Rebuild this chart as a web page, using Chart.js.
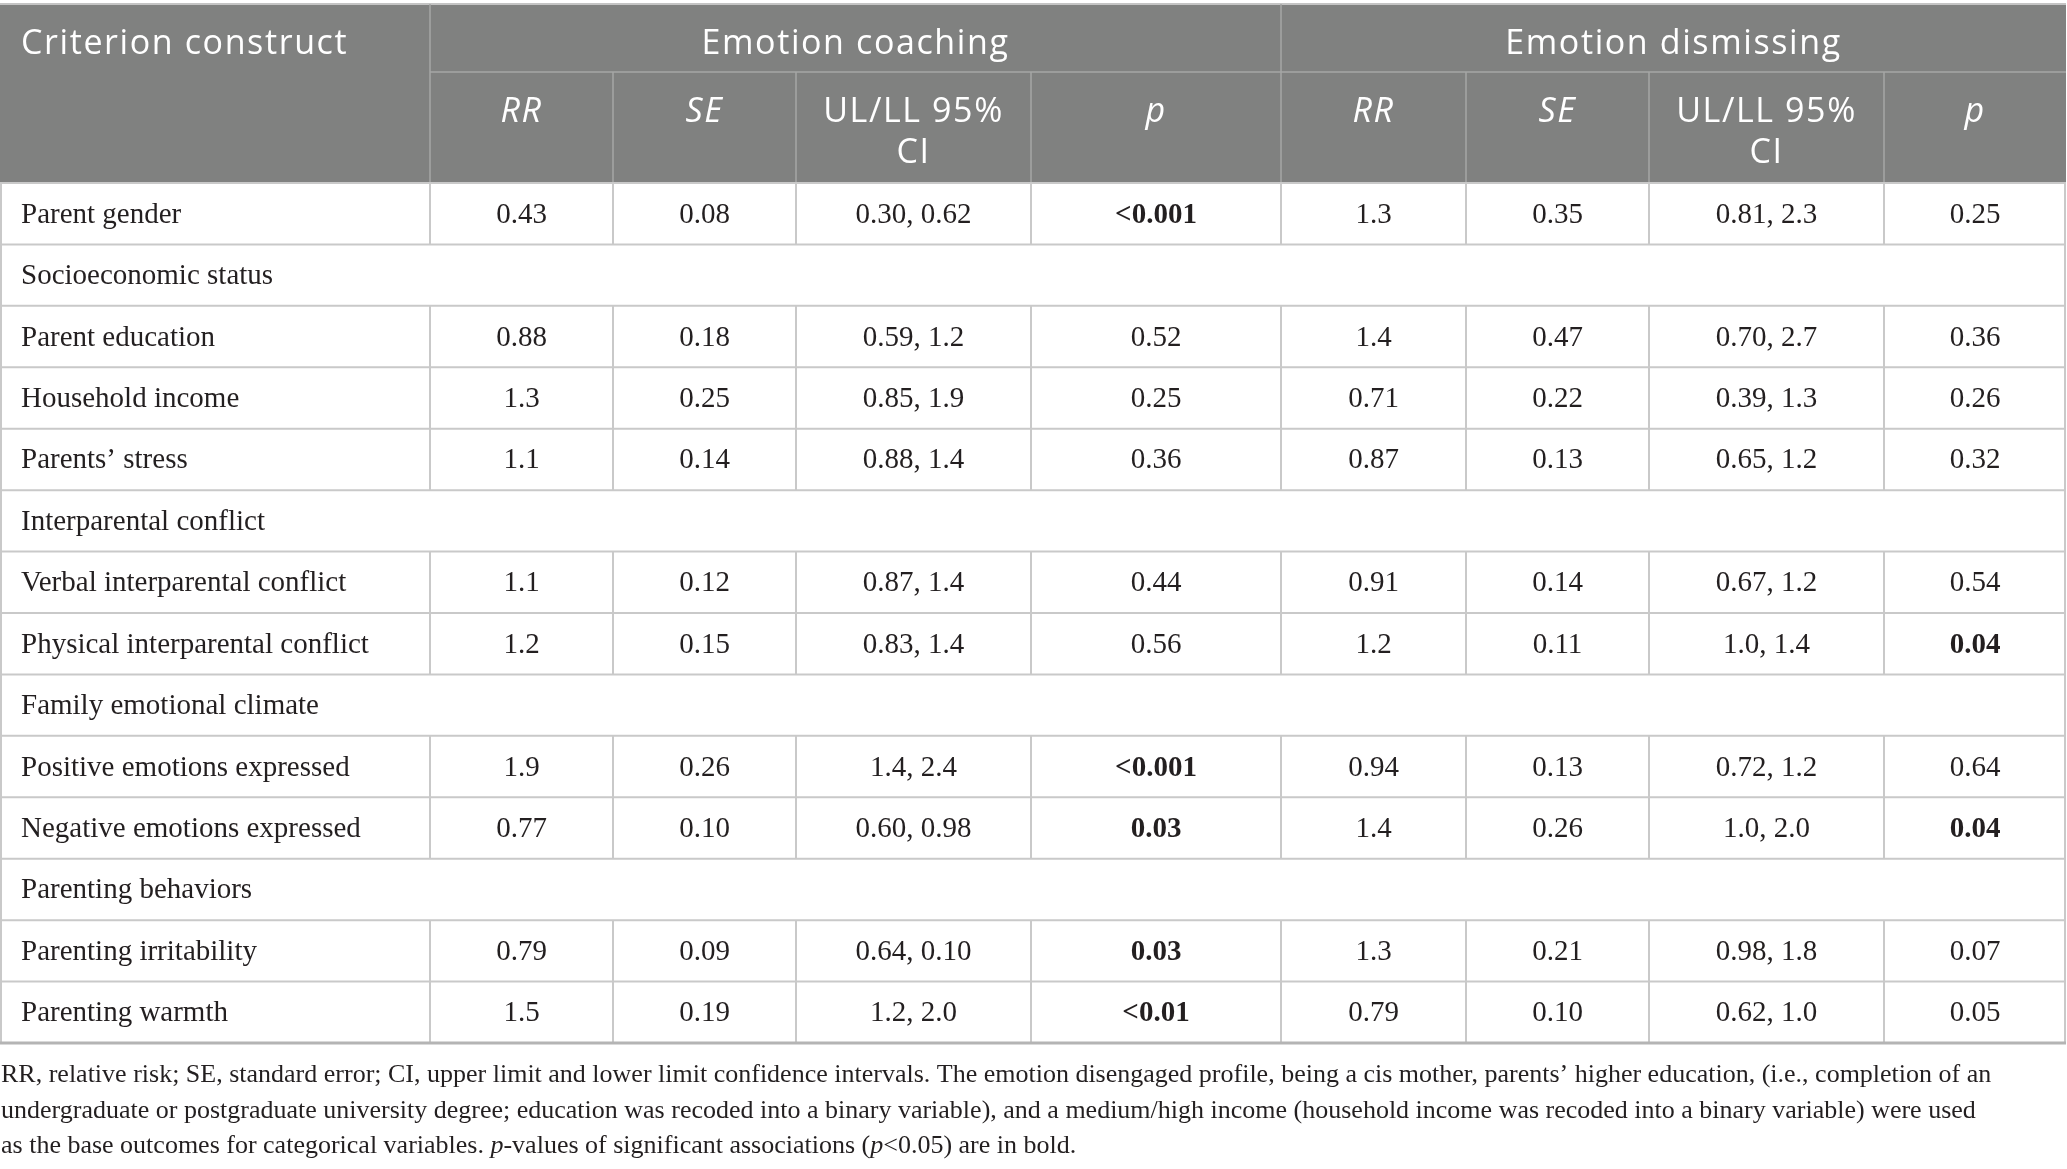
<!DOCTYPE html>
<html>
<head>
<meta charset="utf-8">
<title>Criterion constructs by emotion profile</title>
<script src="https://cdn.jsdelivr.net/npm/chart.js@4.4.1/dist/chart.umd.min.js"></script>
<style>
  html, body { margin: 0; padding: 0; background: #fff; }
  canvas { display: block; }
</style>
</head>
<body>
<canvas id="tableChart" width="2067" height="1169"></canvas>
<script>
// Table data (rows with null values are section headings)
const rowLabels = [
  'Parent gender', 'Socioeconomic status', 'Parent education', 'Household income',
  'Parents\u2019 stress', 'Interparental conflict', 'Verbal interparental conflict',
  'Physical interparental conflict', 'Family emotional climate', 'Positive emotions expressed',
  'Negative emotions expressed', 'Parenting behaviors', 'Parenting irritability', 'Parenting warmth'
];
const groupLabels = ['Emotion coaching', 'Emotion dismissing'];
const statLabels = ['RR', 'SE', 'UL/LL 95%\nCI', 'p'];
const statItalic = [true, true, false, true];

const coachingRR = ['0.43', null, '0.88', '1.3', '1.1', null, '1.1', '1.2', null, '1.9', '0.77', null, '0.79', '1.5'];
const coachingSE = ['0.08', null, '0.18', '0.25', '0.14', null, '0.12', '0.15', null, '0.26', '0.10', null, '0.09', '0.19'];
const coachingCI = ['0.30, 0.62', null, '0.59, 1.2', '0.85, 1.9', '0.88, 1.4', null, '0.87, 1.4', '0.83, 1.4', null, '1.4, 2.4', '0.60, 0.98', null, '0.64, 0.10', '1.2, 2.0'];
const coachingP = ['<0.001', null, '0.52', '0.25', '0.36', null, '0.44', '0.56', null, '<0.001', '0.03', null, '0.03', '<0.01'];

const dismissingRR = ['1.3', null, '1.4', '0.71', '0.87', null, '0.91', '1.2', null, '0.94', '1.4', null, '1.3', '0.79'];
const dismissingSE = ['0.35', null, '0.47', '0.22', '0.13', null, '0.14', '0.11', null, '0.13', '0.26', null, '0.21', '0.10'];
const dismissingCI = ['0.81, 2.3', null, '0.70, 2.7', '0.39, 1.3', '0.65, 1.2', null, '0.67, 1.2', '1.0, 1.4', null, '0.72, 1.2', '1.0, 2.0', null, '0.98, 1.8', '0.62, 1.0'];
const dismissingP = ['0.25', null, '0.36', '0.26', '0.32', null, '0.54', '0.04', null, '0.64', '0.04', null, '0.07', '0.05'];

const valueColumns = [coachingRR, coachingSE, coachingCI, coachingP, dismissingRR, dismissingSE, dismissingCI, dismissingP];
const pColumns = [3, 7];

const footnoteLines = [
  'RR, relative risk; SE, standard error; CI, upper limit and lower limit confidence intervals. The emotion disengaged profile, being a cis mother, parents\u2019 higher education, (i.e., completion of an',
  'undergraduate or postgraduate university degree; education was recoded into a binary variable), and a medium/high income (household income was recoded into a binary variable) were used',
  'as the base outcomes for categorical variables. *p*-values of significant associations (*p*<0.05) are in bold.'
];

// Layout: column widths in x-scale units
const colWidths = [430, 183, 183, 235, 250, 185, 183, 235, 182];
const colEdges = colWidths.reduce((acc, w) => { acc.push(acc[acc.length - 1] + w); return acc; }, [0]);

const headFill = '#808180';
const headLine = '#a6a7a6';
const gridLine = '#c9c9c9';
const textColor = '#231f20';
const sansFont = '"Open Sans", "Noto Sans", sans-serif';
const serifFont = '"Liberation Serif", "DejaVu Serif", serif';

function isSignificant(p) {
  if (p === null) return false;
  if (p.startsWith('<')) return true;
  return parseFloat(p) < 0.05;
}

function hLine(ctx, x1, x2, y, color, w) {
  ctx.beginPath();
  ctx.strokeStyle = color;
  ctx.lineWidth = w;
  ctx.moveTo(x1, y);
  ctx.lineTo(x2, y);
  ctx.stroke();
}

function vLine(ctx, x, y1, y2, color, w) {
  ctx.beginPath();
  ctx.strokeStyle = color;
  ctx.lineWidth = w;
  ctx.moveTo(x, y1);
  ctx.lineTo(x, y2);
  ctx.stroke();
}

// draws a line of text where *...* marks italic runs
function drawRuns(ctx, text, x, y, size) {
  const parts = text.split('*');
  let cx = x;
  parts.forEach((part, k) => {
    ctx.font = (k % 2 ? 'italic ' : '') + size + 'px ' + serifFont;
    ctx.fillText(part, cx, y);
    cx += ctx.measureText(part).width;
  });
}

const tablePlugin = {
  id: 'tableCells',
  afterDraw(chart) {
    const { ctx, chartArea: area, scales: { x, y } } = chart;
    const ex = colEdges.map(v => x.getPixelForValue(v));
    const left = ex[0], right = ex[ex.length - 1];
    const band = y.getPixelForValue(1) - y.getPixelForValue(0);
    const headTop = area.top - 179;
    const headMid = area.top - 111;

    ctx.save();
    ctx.textBaseline = 'alphabetic';

    // header block
    ctx.fillStyle = headFill;
    ctx.fillRect(left, headTop, right - left, area.top - headTop);
    hLine(ctx, left, right, headTop, '#c4c4c4', 2);
    vLine(ctx, ex[1], headTop, area.top, headLine, 1.5);
    vLine(ctx, ex[5], headTop, area.top, headLine, 1.5);
    hLine(ctx, ex[1], right, headMid, headLine, 1.5);
    [2, 3, 4, 6, 7, 8].forEach(c => vLine(ctx, ex[c], headMid, area.top, headLine, 1.5));

    ctx.fillStyle = '#ffffff';
    ctx.letterSpacing = '1.6px';
    ctx.font = '34px ' + sansFont;
    ctx.textAlign = 'left';
    ctx.fillText('Criterion construct', left + 21, headTop + 50);
    ctx.textAlign = 'center';
    groupLabels.forEach((g, k) => {
      ctx.fillText(g, (ex[1 + k * 4] + ex[5 + k * 4]) / 2, headTop + 50);
    });
    for (let c = 0; c < 8; c++) {
      const s = statLabels[c % 4];
      ctx.font = (statItalic[c % 4] ? 'italic ' : '') + '34px ' + sansFont;
      const cx = (ex[c + 1] + ex[c + 2]) / 2;
      s.split('\n').forEach((line, k) => ctx.fillText(line, cx, headMid + 50 + k * 41));
    }
    ctx.letterSpacing = '0px';

    // body rows
    rowLabels.forEach((label, i) => {
      const cy = y.getPixelForValue(i);
      const top = cy - band / 2, bottom = cy + band / 2;
      const section = valueColumns.every(col => col[i] === null);
      if (!section) {
        for (let c = 1; c < ex.length - 1; c++) vLine(ctx, ex[c], top, bottom, gridLine, 2);
      }
      vLine(ctx, left + 1, top, bottom, gridLine, 2);
      vLine(ctx, right - 1, top, bottom, gridLine, 2);
      hLine(ctx, left, right, top, gridLine, 2);

      ctx.fillStyle = textColor;
      ctx.textAlign = 'left';
      ctx.font = '29px ' + serifFont;
      ctx.fillText(label, left + 21, cy + 9);
      if (section) return;
      ctx.textAlign = 'center';
      valueColumns.forEach((col, c) => {
        const v = col[i];
        const bold = pColumns.includes(c) && isSignificant(v);
        ctx.font = (bold ? 'bold ' : '') + '29px ' + serifFont;
        ctx.fillText(v, (ex[c + 1] + ex[c + 2]) / 2, cy + 9);
      });
    });
    hLine(ctx, left, right, area.bottom, '#b4b4b4', 3);

    // footnote
    ctx.fillStyle = textColor;
    ctx.textAlign = 'left';
    footnoteLines.forEach((line, k) => drawRuns(ctx, line, left + 1, area.bottom + 39 + k * 35.5, 26));
    ctx.restore();
  }
};

new Chart(document.getElementById('tableChart').getContext('2d'), {
  type: 'bar',
  data: { labels: rowLabels, datasets: [] },
  options: {
    indexAxis: 'y',
    responsive: false,
    animation: false,
    devicePixelRatio: 1,
    layout: { padding: { top: 183, bottom: 126, left: 0, right: 1 } },
    plugins: { legend: { display: false }, tooltip: { enabled: false } },
    scales: {
      x: { type: 'linear', min: 0, max: colEdges[colEdges.length - 1], display: false },
      y: { type: 'category', labels: rowLabels, offset: true, display: false }
    }
  },
  plugins: [tablePlugin]
});
</script>
</body>
</html>
